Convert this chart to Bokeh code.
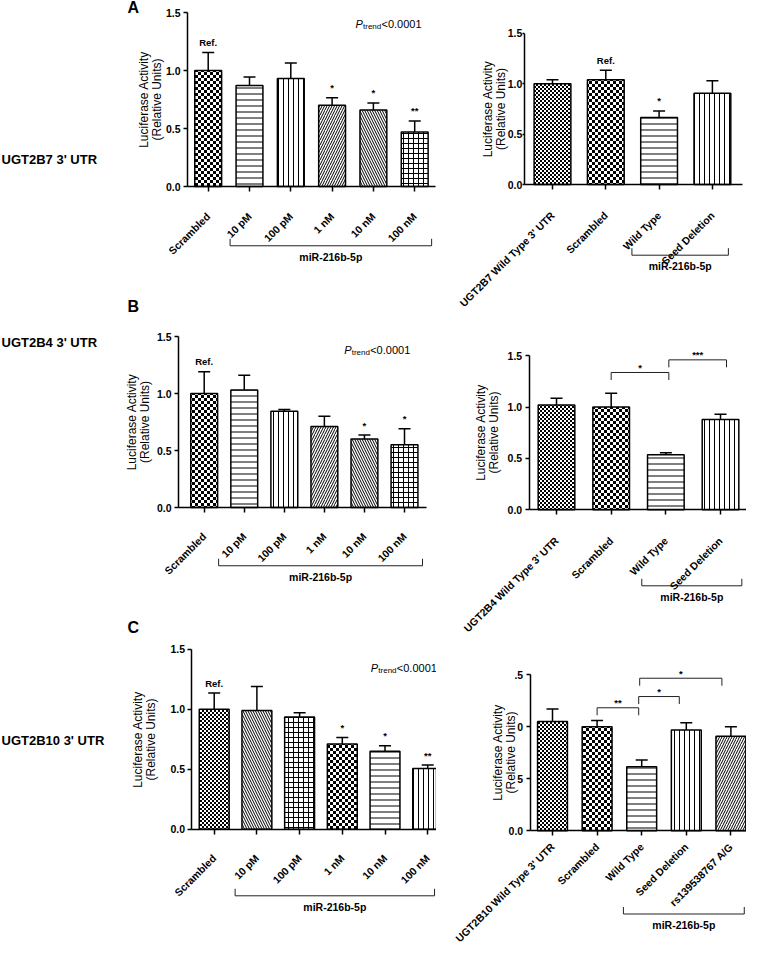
import math
import zlib
import struct
import base64
from bokeh.plotting import figure
from bokeh.layouts import row, column
from bokeh.models import Range1d, FixedTicker, ImageURLTexture, ColumnDataSource
from bokeh.core.properties import value
from bokeh.embed import file_html
from bokeh.resources import INLINE

# ------------------------------------------------------------------ data
dose_labels = ["Scrambled", "10 pM", "100 pM", "1 nM", "10 nM", "100 nM"]

b7_dose_mean = [1.00, 0.87, 0.93, 0.70, 0.66, 0.47]
b7_dose_sem = [0.155, 0.075, 0.135, 0.065, 0.06, 0.095]
b7_dose_sig = ["Ref.", "", "", "*", "*", "**"]

b7_con_labels = ["UGT2B7 Wild Type 3' UTR", "Scrambled", "Wild Type", "Seed Deletion"]
b7_con_mean = [1.00, 1.04, 0.665, 0.905]
b7_con_sem = [0.04, 0.095, 0.065, 0.125]
b7_con_sig = ["", "Ref.", "*", ""]

b4_dose_mean = [1.00, 1.03, 0.845, 0.71, 0.60, 0.55]
b4_dose_sem = [0.19, 0.13, 0.015, 0.09, 0.035, 0.14]
b4_dose_sig = ["Ref.", "", "", "", "*", "*"]

b4_con_labels = ["UGT2B4 Wild Type 3' UTR", "Scrambled", "Wild Type", "Seed Deletion"]
b4_con_mean = [1.02, 1.00, 0.535, 0.88]
b4_con_sem = [0.065, 0.135, 0.02, 0.05]
b4_con_pairs = [(1, 2, "*"), (2, 3, "***")]

b10_dose_mean = [1.00, 0.99, 0.935, 0.71, 0.65, 0.505]
b10_dose_sem = [0.135, 0.20, 0.035, 0.055, 0.045, 0.03]
b10_dose_sig = ["Ref.", "", "", "*", "*", "**"]

b10_con_labels = ["UGT2B10 Wild Type 3' UTR", "Scrambled", "Wild Type",
                  "Seed Deletion", "rs139538767 A/G"]
b10_con_mean = [1.05, 1.00, 0.615, 0.97, 0.91]
b10_con_sem = [0.12, 0.06, 0.065, 0.07, 0.09]
b10_con_pairs = [(1, 2, "**"), (2, 3, "*"), (2, 4, "*")]

row_labels = ["UGT2B7 3' UTR", "UGT2B4 3' UTR", "UGT2B10 3' UTR"]
panel_letters = ["A", "B", "C"]
y_ticks = [0.0, 0.5, 1.0, 1.5]
y_tick_labels = ["0.0", "0.5", "1.0", "1.5"]
y_tick_labels_clipped = ["0.0", "5", "0", ".5"]
y_axis_title = "Luciferase Activity\n(Relative Units)"
group_label = "miR-216b-5p"
trend_parts = ["P", "trend", "<0.0001"]

# ------------------------------------------------------------------ styles
FONT = "Liberation Sans"


def checker_png(cell):
    n = cell * 2
    raw = b""
    for yy in range(n):
        line = b"\x00"
        for xx in range(n):
            dark = ((xx // cell) + (yy // cell)) % 2 == 0
            line += bytes([0, 0, 0, 255]) if dark else bytes([255, 255, 255, 255])
        raw += line

    def chunk(t, d):
        return struct.pack(">I", len(d)) + t + d + struct.pack(">I", zlib.crc32(t + d) & 0xffffffff)

    png = (b"\x89PNG\r\n\x1a\n"
           + chunk(b"IHDR", struct.pack(">IIBBBBB", n, n, 8, 6, 0, 0, 0))
           + chunk(b"IDAT", zlib.compress(raw))
           + chunk(b"IEND", b""))
    return "data:image/png;base64," + base64.b64encode(png).decode()


TEX = {"coarse": ImageURLTexture(url=checker_png(3), repetition="repeat"),
       "fine": ImageURLTexture(url=checker_png(2), repetition="repeat")}
PATTERNS = {
    "coarse": dict(hatch_pattern=value("coarse"), hatch_extra={"coarse": TEX["coarse"]}),
    "fine": dict(hatch_pattern=value("fine"), hatch_extra={"fine": TEX["fine"]}),
    "h": dict(hatch_pattern="horizontal_line", hatch_scale=6),
    "v": dict(hatch_pattern="vertical_line", hatch_scale=5),
    "/": dict(hatch_pattern="right_diagonal_line", hatch_scale=5),
    "\\": dict(hatch_pattern="left_diagonal_line", hatch_scale=5),
    "+": dict(hatch_pattern="cross", hatch_scale=5),
}
dose_patterns_ab = ["coarse", "h", "v", "/", "\\", "+"]
dose_patterns_c = ["fine", "\\", "+", "coarse", "h", "v"]
con_patterns = ["fine", "coarse", "h", "v", "/"]

# layout (page pixels) for each panel
LAYOUT = {
    "A_left": dict(X0=8, Y0=8, W=436, H=284, cx0=215.7, dx=41.3, py0=194, k=116,
                   axis_x=-0.5, x_end=5.5, bar_w=0.65, group=(0.53, 5.41, -0.511),
                   label_standoff=-1, tick_standoff=23,
                   letter=(135, 15), row_label=(9, 167), trend=(363, 27)),
    "B_left": dict(X0=8, Y0=292, W=436, H=320, cx0=211.7, dx=40.06, py0=515, k=114,
                   axis_x=-0.64, x_end=5.55, bar_w=0.67, group=(0.36, 5.45, -0.511),
                   label_standoff=2, tick_standoff=22,
                   letter=(135, 314), row_label=(9, 350), trend=(351.7, 353)),
    "C_left": dict(X0=8, Y0=612, W=436, H=340, cx0=221.7, dx=42.7, py0=836.7, k=120,
                   axis_x=-0.52, x_end=5.5, bar_w=0.70, group=(0.49, 5.16, -0.555),
                   label_standoff=9, tick_standoff=22,
                   letter=(135, 635), row_label=(9, 748), trend=(378.3, 671)),
    "A_right": dict(X0=444, Y0=8, W=310, H=310, cx0=560, dx=53.3, py0=192, k=100.7,
                    axis_x=-0.53, x_end=3.56, bar_w=0.69, group=(1.49, 3.30, -0.702),
                    label_standoff=-3, tick_standoff=24, ytick_out=2, ytick_standoff=0),
    "B_right": dict(X0=444, Y0=318, W=310, H=334, cx0=564, dx=54.67, py0=517.3, k=102.7,
                    axis_x=-0.5, x_end=3.5, bar_w=0.67, group=(1.56, 3.39, -0.74),
                    label_standoff=4, tick_standoff=24,
                    pair_y=[1.337, 1.46], pair_shift=[(0, 3), (3, 6)]),
    "C_right": dict(X0=444, Y0=652, W=310, H=300, cx0=560, dx=44.6, py0=838.3, k=104,
                    axis_x=-0.5, x_end=4.5, bar_w=0.67, group=(1.59, 4.30, -0.80),
                    label_standoff=-12, tick_standoff=9,
                    pair_y=[1.183, 1.291, 1.467], pair_shift=[(0, -3), (-3, -7), (-2, -9)]),
}


def px_x(L, px):
    return (px - L["cx0"]) / L["dx"]


def px_y(L, py):
    return (L["py0"] - py) / L["k"]


def make_fig(L, tick_labels, ytl):
    p = figure(width=L["W"], height=L["H"],
               x_range=Range1d(px_x(L, L["X0"]), px_x(L, L["X0"] + L["W"])),
               y_range=Range1d(px_y(L, L["Y0"] + L["H"]), px_y(L, L["Y0"])),
               output_backend="svg", toolbar_location=None, title=None, tools="",
               min_border=0)
    p.outline_line_color = None
    p.grid.visible = False
    p.background_fill_color = "white"
    p.border_fill_color = "white"
    xa = p.xaxis[0]
    ya = p.yaxis[0]
    for ax in (xa, ya):
        ax.axis_line_width = 1.5
        ax.axis_line_color = "black"
        ax.major_tick_line_width = 1.5
        ax.major_tick_line_color = "black"
        ax.major_tick_in = 0
        ax.minor_tick_line_color = None
        ax.major_label_text_font = FONT
        ax.major_label_text_font_style = "bold"
        ax.major_label_text_font_size = "10.5px"
        ax.major_label_text_color = "black"
    xa.fixed_location = 0
    xa.bounds = (L["axis_x"], L["x_end"])
    xa.ticker = FixedTicker(ticks=list(range(len(tick_labels))))
    xa.major_label_overrides = {i: t for i, t in enumerate(tick_labels)}
    xa.major_label_orientation = math.pi / 4
    xa.major_tick_out = 5
    xa.major_label_standoff = L["tick_standoff"]
    ya.fixed_location = L["axis_x"]
    ya.bounds = (0, 1.5)
    ya.ticker = FixedTicker(ticks=y_ticks)
    ya.major_label_overrides = dict(zip(y_ticks, ytl))
    ya.major_tick_out = L.get("ytick_out", 4)
    ya.major_label_standoff = L.get("ytick_standoff", 3)
    ya.axis_label = y_axis_title
    ya.axis_label_text_font = FONT
    ya.axis_label_text_font_style = "normal"
    ya.axis_label_text_font_size = "12px"
    ya.axis_label_text_color = "black"
    ya.axis_label_text_line_height = 0.95
    ya.axis_label_standoff = L["label_standoff"]
    return p


def txt(p, x, y, s, size, style="bold", align="center", baseline="middle", x_off=0, y_off=0):
    p.text(x=x, y=y, text=s, text_font=value(FONT), text_font_style=style,
           text_font_size=size, text_align=align, text_baseline=baseline,
           text_color="black", x_offset=x_off, y_offset=y_off)


def draw_bars(p, L, mean, sem, patterns):
    xs = list(range(len(mean)))
    ups = [m + s for m, s in zip(mean, sem)]
    p.segment(x0=xs, y0=mean, x1=xs, y1=ups, line_color="black", line_width=1.5)
    p.scatter(x=xs, y=ups, marker="dash", size=12, line_color="black", line_width=1.5)
    for i in xs:
        src = ColumnDataSource(dict(x=[i], top=[mean[i]]))
        p.vbar(x="x", top="top", bottom=0, width=L["bar_w"], source=src,
               fill_color="white", line_color="black", line_width=1.5,
               hatch_color="black", hatch_weight=1, **PATTERNS[patterns[i]])
    return xs, ups


def draw_sig(p, xs, ups, sig):
    keep = [i for i, s in enumerate(sig) if s]
    txt(p, [xs[i] for i in keep], [ups[i] for i in keep], [sig[i] for i in keep],
        "9.5px", y_off=-10)


def draw_group(p, L):
    x0, x1, y = L["group"]
    d = 7 / L["k"]
    p.multi_line(xs=[[x0, x0, x1, x1]], ys=[[y + d, y, y, y + d]],
                 line_color="#222222", line_width=1)
    txt(p, [(x0 + x1) / 2], [y], [group_label], "10.5px", y_off=11)


def draw_pairs(p, L, pairs):
    d = 7.5 / L["k"]
    for (a, b, s), y, (sa, sb) in zip(pairs, L["pair_y"], L["pair_shift"]):
        xa = a + sa / L["dx"]
        xb = b + sb / L["dx"]
        p.multi_line(xs=[[xa, xa, xb, xb]], ys=[[y - d, y, y, y - d]],
                     line_color="#222222", line_width=1)
        txt(p, [(xa + xb) / 2], [y], [s], "9.5px", y_off=-5)


def draw_left_extras(p, L, idx):
    lx, ly = L["row_label"]
    txt(p, [px_x(L, lx)], [px_y(L, ly)], [row_labels[idx]], "13px", align="left")
    ax_, ay_ = L["letter"]
    txt(p, [px_x(L, ax_)], [px_y(L, ay_)], [panel_letters[idx]], "16px", align="left")
    tx, ty = L["trend"]
    X = [px_x(L, tx)]
    txt(p, X, [px_y(L, ty + 4)], [trend_parts[0]], "11px", style="italic",
        align="left", baseline="alphabetic")
    txt(p, X, [px_y(L, ty + 6.5)], [trend_parts[1]], "8px", style="normal",
        align="left", baseline="alphabetic", x_off=7.5)
    txt(p, X, [px_y(L, ty + 4)], [trend_parts[2]], "11px", style="normal",
        align="left", baseline="alphabetic", x_off=26)


# ------------------------------------------------------------------ panels
L = LAYOUT["A_left"]
pA1 = make_fig(L, dose_labels, y_tick_labels)
xs, ups = draw_bars(pA1, L, b7_dose_mean, b7_dose_sem, dose_patterns_ab)
draw_sig(pA1, xs, ups, b7_dose_sig)
draw_group(pA1, L)
draw_left_extras(pA1, L, 0)

L = LAYOUT["A_right"]
pA2 = make_fig(L, b7_con_labels, y_tick_labels)
xs, ups = draw_bars(pA2, L, b7_con_mean, b7_con_sem, con_patterns)
draw_sig(pA2, xs, ups, b7_con_sig)
draw_group(pA2, L)

L = LAYOUT["B_left"]
pB1 = make_fig(L, dose_labels, y_tick_labels)
xs, ups = draw_bars(pB1, L, b4_dose_mean, b4_dose_sem, dose_patterns_ab)
draw_sig(pB1, xs, ups, b4_dose_sig)
draw_group(pB1, L)
draw_left_extras(pB1, L, 1)

L = LAYOUT["B_right"]
pB2 = make_fig(L, b4_con_labels, y_tick_labels)
draw_bars(pB2, L, b4_con_mean, b4_con_sem, con_patterns)
draw_pairs(pB2, L, b4_con_pairs)
draw_group(pB2, L)

L = LAYOUT["C_left"]
pC1 = make_fig(L, dose_labels, y_tick_labels)
xs, ups = draw_bars(pC1, L, b10_dose_mean, b10_dose_sem, dose_patterns_c)
draw_sig(pC1, xs, ups, b10_dose_sig)
draw_group(pC1, L)
draw_left_extras(pC1, L, 2)

L = LAYOUT["C_right"]
pC2 = make_fig(L, b10_con_labels, y_tick_labels_clipped)
draw_bars(pC2, L, b10_con_mean, b10_con_sem, con_patterns)
draw_pairs(pC2, L, b10_con_pairs)
draw_group(pC2, L)

layout = row(column(pA1, pB1, pC1), column(pA2, pB2, pC2))
open("out.html", "w").write(file_html(layout, INLINE))
